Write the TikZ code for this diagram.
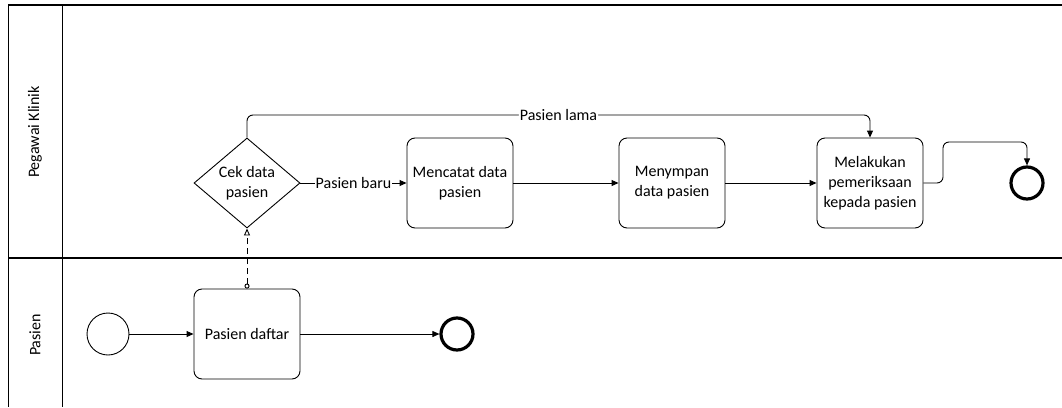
\documentclass[tikz,border=0pt]{standalone}
\usepackage{fontspec}
\setmainfont{Carlito}
\usetikzlibrary{shapes.geometric,arrows.meta,positioning}
\newcommand{\lbl}{\fontsize{16}{20}\selectfont}

\begin{document}
\begin{tikzpicture}[x=1pt, y=-1pt, line width=0.9pt,
    task/.style={draw, rounded corners=8pt, minimum width=106pt, minimum height=90pt, align=center, font=\lbl, inner sep=2pt},
    gate/.style={draw, diamond, aspect=1.18, minimum width=106pt, minimum height=90pt, inner sep=0pt, align=center, font=\lbl},
    startev/.style={draw, circle, minimum size=42pt, inner sep=0pt},
    stopev/.style={draw, circle, line width=3.2pt, minimum size=32pt, inner sep=0pt},
    flow/.style={-{Triangle[length=7pt,width=6pt]}},
    msg/.style={{Circle[open,length=5pt,width=5pt]}-{Triangle[open,length=7pt,width=6pt]}, dash pattern=on 6pt off 4pt},
    lane/.style={rotate=90, font=\lbl}]
    \useasboundingbox (0,0) rectangle (1062,407);

    % pool and lanes
    \draw[line width=1.8pt] (8,5) -- (1062,5);
    \draw (8,5) -- (8,407);
    \draw (62,5) -- (62,407);
    \draw[line width=2.2pt] (8,258) -- (1062,258);
    \node[lane] (lajurPegawai) at (35,132) {Pegawai Klinik};
    \node[lane] (lajurPasien) at (35,335) {Pasien};

    % pegawai klinik
    \node[gate] (cek) at (247,183) {Cek data\\pasien};
    \node[task] (catat) at (460,183) {Mencatat data\\pasien};
    \node[task] (simpan) at (672,183) {Menympan\\data pasien};
    \node[task] (periksa) at (870,183) {Melakukan\\pemeriksaan\\kepada pasien};
    \node[stopev] (selesaiKlinik) at (1027,183) {};

    % pasien
    \node[startev] (mulai) at (108,334) {};
    \node[task] (daftar) at (247,334) {Pasien daftar};
    \node[stopev] (selesaiPasien) at (457,334) {};

    \coordinate (lamaY) at (0,115);
    \coordinate (naik) at (943,142);

    \draw[flow] (mulai) -- (daftar);
    \draw[flow] (daftar) -- (selesaiPasien);
    \draw[msg] (daftar.north) -- (cek.south);
    \draw[flow] (cek) -- node[fill=white, inner sep=1pt, font=\lbl]{Pasien baru} (catat);
    \draw[flow] (catat) -- (simpan);
    \draw[flow] (simpan) -- (periksa);
    \draw[flow, rounded corners=6pt] (cek.north) -- (cek.north |- lamaY) -- node[fill=white, inner sep=1pt, font=\lbl]{Pasien lama} (periksa.north |- lamaY) -- (periksa.north);
    \draw[flow, rounded corners=6pt] (periksa.east) -| (naik) -| (selesaiKlinik.north);
\end{tikzpicture}
\end{document}
